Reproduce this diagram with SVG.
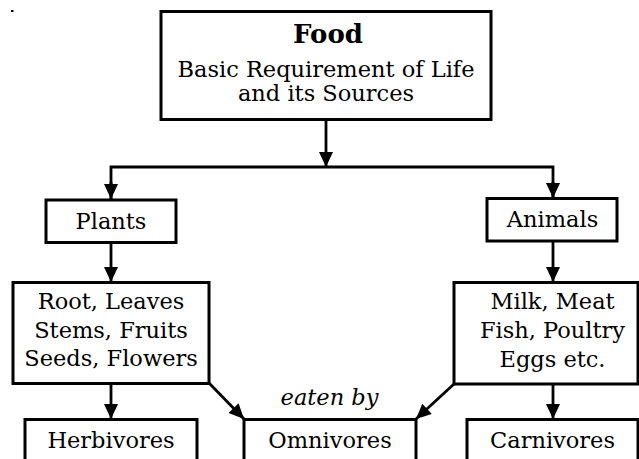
<svg xmlns="http://www.w3.org/2000/svg" width="639" height="459" viewBox="0 0 639 459">
<style>
.box{fill:#fff;stroke:#000;stroke-width:3}
.t{font-family:"DejaVu Serif","Liberation Serif",serif;font-size:22.5px;fill:#000;text-anchor:middle}
.b{font-weight:bold;font-size:26px}
.i{font-style:italic}
.c{fill:none;stroke:#000;stroke-width:2.8}
</style>
<defs>
<marker id="ah" markerUnits="userSpaceOnUse" markerWidth="17" markerHeight="17" viewBox="0 0 17 17" refX="16" refY="8.5" orient="auto">
<path d="M1,1.5 L16,8.5 L1,15.5 Z" fill="#000"/>
</marker>
</defs>
<rect x="11" y="10" width="2.5" height="2" fill="#000"/>
<g id="connectors">
<line class="c" x1="326" y1="120" x2="326" y2="167" marker-end="url(#ah)"/>
<polyline class="c" points="111,199 111,167 553,167 553,198"/>
<line class="c" x1="111" y1="182" x2="111" y2="199" marker-end="url(#ah)"/>
<line class="c" x1="553" y1="182" x2="553" y2="198" marker-end="url(#ah)"/>
<line class="c" x1="111" y1="243" x2="111" y2="282" marker-end="url(#ah)"/>
<line class="c" x1="553" y1="241" x2="553" y2="282" marker-end="url(#ah)"/>
<line class="c" x1="111" y1="384" x2="111" y2="419" marker-end="url(#ah)"/>
<line class="c" x1="553" y1="384" x2="553" y2="419" marker-end="url(#ah)"/>
<line class="c" x1="209" y1="383" x2="244" y2="419" marker-end="url(#ah)"/>
<line class="c" x1="454" y1="384" x2="416" y2="419" marker-end="url(#ah)"/>
</g>
<g id="food">
<rect class="box" x="161" y="11.5" width="330" height="108"/>
<text class="t b" x="328" y="43">Food</text>
<text class="t" x="326" y="77">Basic Requirement of Life</text>
<text class="t" x="326" y="101">and its Sources</text>
</g>
<g id="plants">
<rect class="box" x="46" y="200" width="130" height="42.5"/>
<text class="t" x="111" y="229">Plants</text>
</g>
<g id="animals">
<rect class="box" x="487" y="198.5" width="130" height="42.5"/>
<text class="t" x="552.5" y="227">Animals</text>
</g>
<g id="plant-foods">
<rect class="box" x="13" y="282.5" width="196" height="101"/>
<text class="t" x="111" y="309">Root, Leaves</text>
<text class="t" x="111" y="338">Stems, Fruits</text>
<text class="t" x="111" y="366">Seeds, Flowers</text>
</g>
<g id="animal-foods">
<rect class="box" x="454" y="282.5" width="184" height="101.5"/>
<text class="t" x="552.5" y="309">Milk, Meat</text>
<text class="t" x="552.5" y="338">Fish, Poultry</text>
<text class="t" x="552.5" y="366.5">Eggs etc.</text>
</g>
<g id="eaten-by">
<text class="t i" x="329.5" y="405">eaten by</text>
</g>
<g id="herbivores">
<rect class="box" x="25" y="419.5" width="172" height="60"/>
<text class="t" x="111" y="448">Herbivores</text>
</g>
<g id="omnivores">
<rect class="box" x="244" y="419.5" width="172" height="60"/>
<text class="t" x="330" y="448">Omnivores</text>
</g>
<g id="carnivores">
<rect class="box" x="467" y="419.5" width="171" height="60"/>
<text class="t" x="552.5" y="448">Carnivores</text>
</g>
</svg>
